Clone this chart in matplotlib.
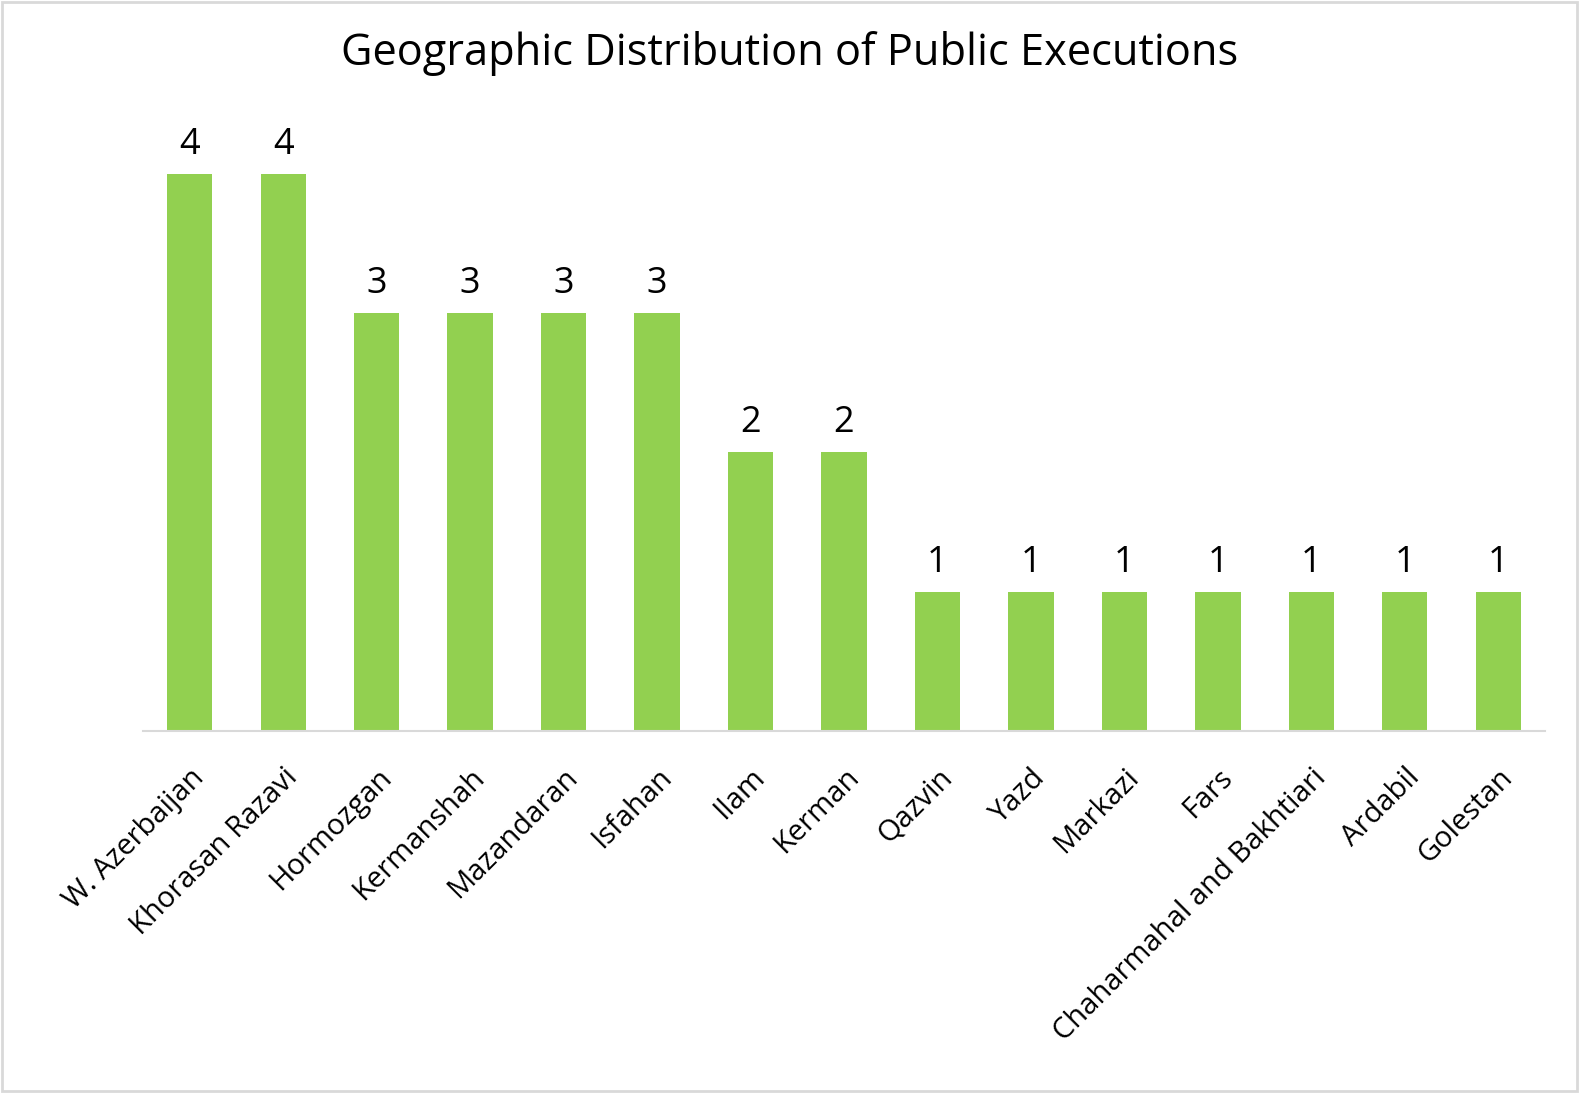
import matplotlib
matplotlib.use("Agg")
import matplotlib.pyplot as plt
from matplotlib.patches import Rectangle

provinces = ["W. Azerbaijan", "Khorasan Razavi", "Hormozgan", "Kermanshah", "Mazandaran",
             "Isfahan", "Ilam", "Kerman", "Qazvin", "Yazd", "Markazi", "Fars",
             "Chaharmahal and Bakhtiari", "Ardabil", "Golestan"]
executions = [4, 4, 3, 3, 3, 3, 2, 2, 1, 1, 1, 1, 1, 1, 1]
title = "Geographic Distribution of Public Executions"

plt.rcParams['font.family'] = ['Open Sans', 'DejaVu Sans']

W, H = 1579, 1093
fig = plt.figure(figsize=(W/100, H/100), dpi=100)
ax = fig.add_axes([143/W, 1-731/H, (1545-143)/W, (731-104)/H])

x = list(range(len(provinces)))
bars = ax.bar(x, executions, width=0.485, color="#92D050")
ax.set_xlim(-0.5, len(provinces) - 0.5)
ax.set_ylim(0, 4.5)

for xi, v in zip(x, executions):
    ax.annotate(str(v), (xi, v), xytext=(0, 8), textcoords="offset points",
                ha="center", va="bottom", fontsize=26, color="black")

ax.set_xticks(x)
ax.set_xticklabels(provinces, rotation=45, ha="right", rotation_mode="anchor",
                   fontsize=21)
ax.tick_params(axis="x", length=0, pad=23)
ax.set_yticks([])
for s in ["top", "right", "left"]:
    ax.spines[s].set_visible(False)
ax.spines["bottom"].set_color("#D9D9D9")
ax.spines["bottom"].set_linewidth(1.5)

fig.text(790/W, 1-53/H, title, ha="center", va="center", fontsize=31.2, color="black")

fig.patches.append(Rectangle((0.0015, 0.0015), 0.997, 0.997, transform=fig.transFigure,
                             fill=False, edgecolor="#D9D9D9", linewidth=2))

fig.savefig("out.png", dpi=100)
